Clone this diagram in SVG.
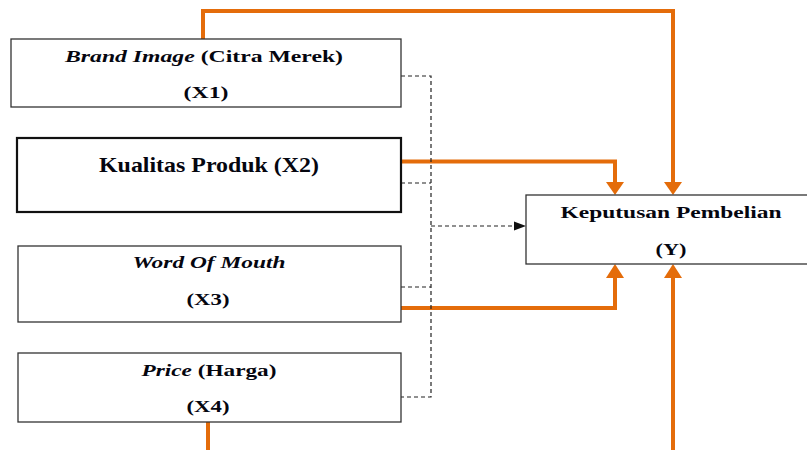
<svg xmlns="http://www.w3.org/2000/svg" width="807" height="450" viewBox="0 0 807 450">
<style>
.box{fill:#fff;stroke:#333;stroke-width:1.3}
.box2{fill:#fff;stroke:#111;stroke-width:2.2}
.t{font-family:"Liberation Serif","Times New Roman",serif;font-weight:bold;font-size:17px;fill:#05060f;text-anchor:middle}
.i{font-style:italic}
.or{fill:none;stroke:#E46C0A;stroke-width:4;stroke-linejoin:miter}
.ah{fill:#E46C0A}
.da{fill:none;stroke:#222;stroke-width:1.2;stroke-dasharray:4 3}
</style>
<g id="connectors">
<polyline class="or" points="203,39 203,11 673,11 673,183"/>
<polygon class="ah" points="664,182 682,182 673,195"/>
<polyline class="or" points="401,161.5 615,161.5 615,183"/>
<polygon class="ah" points="606,182 624,182 615,195"/>
<polyline class="or" points="401,308 615,308 615,276"/>
<polygon class="ah" points="606,278 624,278 615,264"/>
<polyline class="or" points="673,450 673,276"/>
<polygon class="ah" points="664,278 682,278 673,264"/>
<line class="or" x1="208" y1="422" x2="208" y2="450"/>
<polyline class="da" points="401,76 431,76 431,397 401,397"/>
<line class="da" x1="401" y1="183" x2="431" y2="183"/>
<line class="da" x1="401" y1="287" x2="431" y2="287"/>
<line class="da" x1="431" y1="226" x2="515" y2="226"/>
<polygon fill="#111" points="514,221.5 526,226 514,230.5"/>
</g>
<g id="x1">
<rect class="box" x="11" y="39" width="390" height="68"/>
<text class="t" x="204" y="62" textLength="278" lengthAdjust="spacingAndGlyphs"><tspan class="i">Brand Image</tspan> (Citra Merek)</text>
<text class="t" x="206" y="98" textLength="45" lengthAdjust="spacingAndGlyphs">(X1)</text>
</g>
<g id="x2">
<rect class="box2" x="17" y="138" width="384" height="74"/>
<text class="t" x="209" y="172" style="font-size:22px" textLength="220" lengthAdjust="spacingAndGlyphs">Kualitas Produk (X2)</text>
</g>
<g id="x3">
<rect class="box" x="18" y="246" width="383" height="76"/>
<text class="t i" x="209" y="268" textLength="153" lengthAdjust="spacingAndGlyphs">Word Of Mouth</text>
<text class="t" x="208" y="305" textLength="43" lengthAdjust="spacingAndGlyphs">(X3)</text>
</g>
<g id="x4">
<rect class="box" x="18" y="353" width="383" height="69"/>
<text class="t" x="209" y="376" textLength="135" lengthAdjust="spacingAndGlyphs"><tspan class="i">Price</tspan> (Harga)</text>
<text class="t" x="208" y="412" textLength="43" lengthAdjust="spacingAndGlyphs">(X4)</text>
</g>
<g id="y">
<rect class="box" x="526" y="195" width="285" height="69"/>
<text class="t" x="671" y="218" textLength="221" lengthAdjust="spacingAndGlyphs">Keputusan Pembelian</text>
<text class="t" x="671" y="255" textLength="31" lengthAdjust="spacingAndGlyphs">(Y)</text>
</g>
</svg>
